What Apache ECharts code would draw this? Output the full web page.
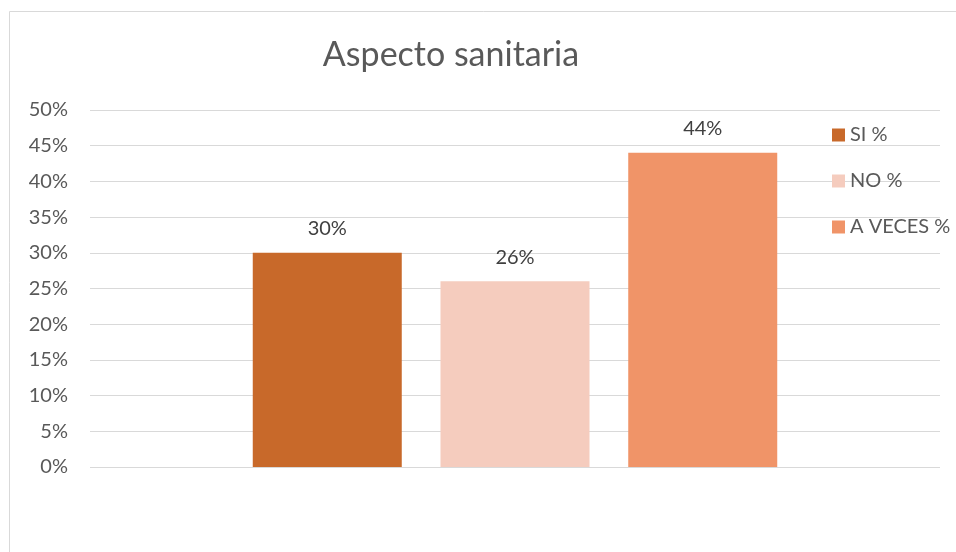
<!DOCTYPE html>
<html><head><meta charset="utf-8">
<script src="https://cdn.jsdelivr.net/npm/echarts@6/dist/echarts.min.js"></script>
<style>html,body{margin:0;padding:0;background:#fff}#c{width:956px;height:552px}</style>
</head><body><div id="c"></div>
<script>
const categories = [''];
const seriesNames = ['SI %', 'NO %', 'A VECES %'];
const siValues = [30];
const noValues = [26];
const aVecesValues = [44];
const colors = ['#C8692A', '#F5CCBE', '#F09468'];

const chart = echarts.init(document.getElementById('c'));
const font = 'Lato, "Open Sans", sans-serif';
const dataSets = [siValues, noValues, aVecesValues];
chart.setOption({
  animation: false,
  title: { text: 'Aspecto sanitaria', left: 446, top: 33, textAlign: 'center',
    textStyle: { fontFamily: font, fontSize: 34, fontWeight: 'normal', color: '#595959' } },
  graphic: [{ type: 'rect', shape: { x: 9.5, y: 11.5, width: 1000, height: 600 },
    style: { fill: 'none', stroke: '#D9D9D9', lineWidth: 1 }, silent: true }],
  legend: { orient: 'vertical', left: 827, top: 120, itemGap: 26, itemWidth: 13, itemHeight: 13,
    icon: 'rect', data: seriesNames,
    textStyle: { fontFamily: font, fontSize: 20, color: '#595959', padding: [0, 0, 0, 0] } },
  grid: { left: 90, right: 16, top: 110, bottom: 85, containLabel: false },
  xAxis: { type: 'category', data: categories, axisLine: { show: false }, axisTick: { show: false },
    axisLabel: { show: false } },
  yAxis: { type: 'value', min: 0, max: 50, interval: 5,
    axisLabel: { formatter: v => v + '%', fontFamily: font, fontSize: 20, color: '#595959', margin: 22 },
    splitLine: { lineStyle: { color: '#D9D9D9', width: 1 } }, axisLine: { show: false }, axisTick: { show: false } },
  series: seriesNames.map((n, i) => ({
    name: n, type: 'bar', data: dataSets[i], barWidth: 149, barGap: '26%',
    itemStyle: { color: colors[i] },
    label: { show: true, position: 'top', distance: 14, formatter: p => p.value + '%',
      fontFamily: font, fontSize: 20, color: '#404040' }
  }))
});
</script></body></html>
